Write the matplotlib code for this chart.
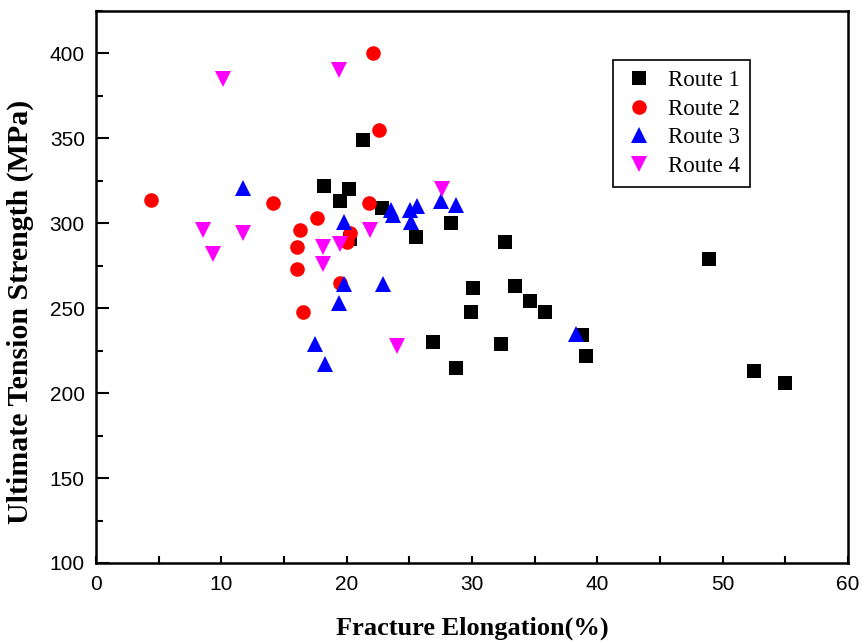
import matplotlib
matplotlib.use("Agg")
import matplotlib.pyplot as plt
from matplotlib.ticker import MultipleLocator

# Route 1 (black squares)
r1_x = [21.3, 18.2, 19.5, 20.2, 22.8, 20.3, 25.5, 28.3, 32.6, 48.9, 30.1, 33.4,
        34.6, 35.8, 29.9, 26.9, 32.3, 38.8, 39.1, 28.7, 52.5, 55.0]
r1_y = [349, 322, 313, 320, 309, 291, 292, 300, 289, 279, 262, 263,
        254, 248, 248, 230, 229, 234, 222, 215, 213, 206]

# Route 2 (red circles)
r2_x = [22.1, 22.6, 4.4, 14.1, 21.8, 17.6, 16.3, 16.0, 16.0, 20.3, 20.0, 19.5, 16.5]
r2_y = [400, 355, 314, 312, 312, 303, 296, 286, 273, 294, 289, 265, 248]

# Route 3 (blue up-triangles)
r3_x = [11.7, 19.8, 23.5, 23.7, 25.05, 25.6, 25.1, 27.5, 28.7, 19.8, 22.9,
        19.4, 17.5, 18.3, 38.3]
r3_y = [321, 301, 308, 305, 308, 310, 301, 313, 311, 264, 264,
        253, 229, 217, 235]

# Route 4 (magenta down-triangles)
r4_x = [10.1, 19.4, 8.5, 11.7, 9.3, 21.9, 18.1, 19.5, 18.1, 27.6, 24.0]
r4_y = [385, 390, 296, 294, 282, 296, 286, 288, 276, 320, 228]

fig = plt.figure(figsize=(8.63, 6.42), dpi=100)
ax = fig.add_axes([0.1112, 0.1231, 0.8714, 0.8598])

ax.plot(r1_x, r1_y, "s", color="black", ms=9.5, mew=0, label="Route 1")
ax.plot(r2_x, r2_y, "o", color="#ff0000", ms=10.5, mew=0, label="Route 2")
ax.plot(r3_x, r3_y, "^", color="#0000ff", ms=12, mew=0, label="Route 3")
ax.plot(r4_x, r4_y, "v", color="#ff00ff", ms=12, mew=0, label="Route 4")

ax.set_xlim(0, 60)
ax.set_ylim(100, 425)
ax.xaxis.set_major_locator(MultipleLocator(10))
ax.xaxis.set_minor_locator(MultipleLocator(5))
ax.yaxis.set_major_locator(MultipleLocator(50))
ax.yaxis.set_minor_locator(MultipleLocator(25))
ax.tick_params(which="major", direction="in", length=9, width=1.5,
               labelsize=15, pad=8)
ax.tick_params(which="minor", direction="in", length=5, width=1.5)
ax.tick_params(axis="x", which="both", length=5, pad=9)
for lbl in ax.get_xticklabels() + ax.get_yticklabels():
    lbl.set_fontfamily("Liberation Sans")
for s in ax.spines.values():
    s.set_linewidth(1.8)

ax.set_xlabel("Fracture Elongation(%)", fontfamily="Liberation Serif",
              fontweight="bold", fontsize=19, labelpad=16)
ax.set_ylabel("Ultimate Tension Strength (MPa)", fontfamily="Liberation Serif",
              fontweight="bold", fontsize=21.5)
ax.yaxis.set_label_coords(-0.083, 0.455)

leg = ax.legend(loc="upper left", bbox_to_anchor=(0.687, 0.911),
                borderaxespad=0, fancybox=False, edgecolor="black",
                framealpha=1, numpoints=1, handlelength=1.4,
                handletextpad=0.55, labelspacing=0.32, borderpad=0.45,
                prop={"family": "Liberation Serif", "size": 16.5})
leg.get_frame().set_linewidth(1.2)

fig.savefig("out.png", dpi=100)
